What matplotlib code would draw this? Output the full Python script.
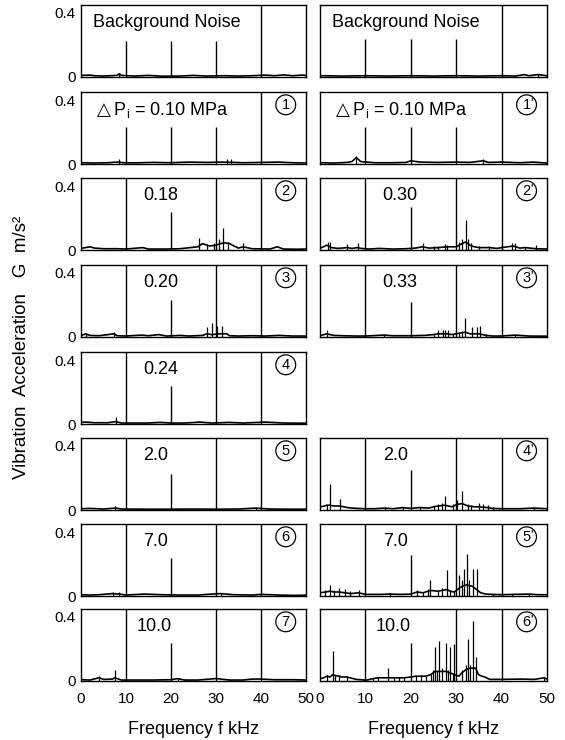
import matplotlib
matplotlib.use('Agg')
import matplotlib.pyplot as plt

plt.rcParams['font.family'] = ['Liberation Sans', 'DejaVu Sans']

# Espectros (f em kHz, aceleração em G m/s²)
# coluna esquerda
bg_l_f = [0, 2, 3, 5, 8, 8.5, 9, 12, 15, 18, 22, 25, 28, 32, 35, 38, 41, 43, 45, 47, 49, 50]
bg_l_a = [0.01, 0.012, 0.008, 0.006, 0.01, 0.02, 0.01, 0.006, 0.01, 0.005, 0.006, 0.01,
          0.006, 0.008, 0.006, 0.008, 0.012, 0.008, 0.013, 0.008, 0.012, 0.01]
bg_l_pf = [8.5]
bg_l_pa = [0.02]

p1_l_f = [0, 3, 6, 8, 9.5, 12, 16, 20, 24, 28, 31, 34, 36, 40, 44, 47, 50]
p1_l_a = [0.008, 0.006, 0.008, 0.012, 0.008, 0.007, 0.01, 0.008, 0.012, 0.01, 0.012, 0.01,
          0.008, 0.01, 0.012, 0.008, 0.006]
p1_l_pf = [8.4, 32.5, 33.4]
p1_l_pa = [0.03, 0.03, 0.03]

p2_l_f = [0, 1, 2, 3, 5, 8, 10, 13.7, 15, 19, 22, 26, 27, 28.5, 30, 31, 32, 33, 34, 35, 36,
          38, 42, 43.6, 45, 48, 50]
p2_l_a = [0.01, 0.015, 0.02, 0.012, 0.008, 0.008, 0.006, 0.015, 0.006, 0.006, 0.008, 0.02,
          0.04, 0.025, 0.03, 0.04, 0.045, 0.04, 0.025, 0.012, 0.02, 0.008, 0.006, 0.02,
          0.006, 0.005, 0.006]
p2_l_pf = [26.3, 28, 29.5, 30.6, 31.5, 32.6, 36]
p2_l_pa = [0.075, 0.04, 0.045, 0.07, 0.14, 0.05, 0.045]

p3_l_f = [0, 1, 2, 4, 7.4, 8, 10, 13.5, 15, 17.3, 19, 22, 24, 27, 28, 29, 31, 32.4, 33, 35,
          38, 41, 44, 47, 50]
p3_l_a = [0.008, 0.02, 0.01, 0.008, 0.02, 0.008, 0.006, 0.012, 0.008, 0.015, 0.006, 0.01,
          0.006, 0.01, 0.02, 0.015, 0.02, 0.02, 0.008, 0.006, 0.008, 0.006, 0.01, 0.006, 0.006]
p3_l_pf = [1, 7.4, 28, 29.2, 30.3, 31.4]
p3_l_pa = [0.025, 0.03, 0.06, 0.09, 0.07, 0.07]

p4_l_f = [0, 1, 3, 6, 7.7, 9, 12, 15, 17.5, 20, 23, 26.5, 29, 33, 36, 41, 45, 50]
p4_l_a = [0.01, 0.012, 0.008, 0.008, 0.015, 0.006, 0.006, 0.006, 0.01, 0.006, 0.006, 0.012,
          0.006, 0.01, 0.006, 0.012, 0.006, 0.005]
p4_l_pf = [7.7]
p4_l_pa = [0.045]

p5_l_f = [0, 2, 5, 7.6, 9, 15, 20, 25, 30, 35, 38.8, 42, 46, 50]
p5_l_a = [0.008, 0.01, 0.006, 0.012, 0.006, 0.005, 0.005, 0.006, 0.005, 0.006, 0.012,
          0.006, 0.005, 0.005]
p5_l_pf = [7.6, 38.8]
p5_l_pa = [0.022, 0.015]

p6_l_f = [0, 2, 4, 7, 8.5, 10, 14, 18, 22, 26, 29, 31, 34, 38, 40, 44, 47, 50]
p6_l_a = [0.008, 0.006, 0.008, 0.015, 0.012, 0.006, 0.012, 0.008, 0.006, 0.006, 0.012,
          0.015, 0.008, 0.006, 0.01, 0.006, 0.004, 0.005]
p6_l_pf = [7, 8.5, 31]
p6_l_pa = [0.025, 0.022, 0.02]

p7_l_f = [0, 2, 4, 5, 7, 7.5, 9, 12, 16, 20, 21.5, 23, 26, 30, 33, 36, 38, 40, 43, 47, 50]
p7_l_a = [0.008, 0.006, 0.02, 0.01, 0.012, 0.02, 0.006, 0.006, 0.006, 0.008, 0.015, 0.006,
          0.006, 0.015, 0.006, 0.006, 0.012, 0.012, 0.008, 0.008, 0.006]
p7_l_pf = [4, 7.5, 21.5, 23]
p7_l_pa = [0.03, 0.07, 0.02, 0.015]

# coluna direita
bg_r_f = [0, 5, 10, 15, 20, 25, 30, 35, 40, 43, 45, 46, 48, 50]
bg_r_a = [0.008, 0.006, 0.008, 0.006, 0.008, 0.006, 0.008, 0.006, 0.008, 0.006, 0.015,
          0.008, 0.015, 0.008]
bg_r_pf = [48]
bg_r_pa = [0.02]

p1_r_f = [0, 3, 6, 7, 8, 9, 12, 16, 19, 20, 22, 26, 30, 33, 36, 37, 40, 44, 47, 50]
p1_r_a = [0.008, 0.006, 0.01, 0.015, 0.04, 0.015, 0.008, 0.008, 0.01, 0.02, 0.012, 0.01,
          0.012, 0.01, 0.02, 0.01, 0.012, 0.008, 0.012, 0.006]
p1_r_pf = [8, 36]
p1_r_pa = [0.05, 0.03]

p2_r_f = [0, 1.5, 2.5, 4, 6, 7, 8.3, 9, 11, 13, 16, 19, 21, 22.6, 24, 26, 28, 30, 31.3,
          32.1, 33, 34, 35, 37.2, 39, 40, 42.6, 44, 45.2, 47.5, 50]
p2_r_a = [0.01, 0.03, 0.015, 0.01, 0.015, 0.01, 0.015, 0.01, 0.006, 0.01, 0.006, 0.008,
          0.012, 0.02, 0.012, 0.015, 0.02, 0.02, 0.04, 0.05, 0.03, 0.02, 0.015, 0.015, 0.01,
          0.015, 0.025, 0.012, 0.015, 0.008, 0.006]
p2_r_pf = [1.7, 2.2, 6, 8.3, 22.6, 25, 26, 27.6, 28, 30.7, 31.3, 32.1, 32.5, 33.2, 35, 37.2,
           40, 42.3, 43, 45.2, 47.5]
p2_r_pa = [0.05, 0.05, 0.04, 0.045, 0.045, 0.025, 0.025, 0.035, 0.03, 0.05, 0.07, 0.19,
           0.07, 0.045, 0.025, 0.025, 0.03, 0.045, 0.045, 0.02, 0.03]

p3_r_f = [0, 1.5, 3, 5, 8, 10, 14, 16, 20, 23, 25, 26, 28, 29, 30, 32, 33, 35, 36.6, 38, 40,
          43, 46, 50]
p3_r_a = [0.008, 0.02, 0.01, 0.008, 0.006, 0.006, 0.012, 0.008, 0.008, 0.01, 0.015, 0.02,
          0.02, 0.015, 0.02, 0.03, 0.02, 0.02, 0.01, 0.006, 0.006, 0.012, 0.006, 0.005]
p3_r_pf = [1.5, 14, 25, 26.1, 27, 27.6, 28.3, 29.2, 30.6, 31.2, 32, 33.4, 34.5, 35.3, 36.6, 43]
p3_r_pa = [0.045, 0.02, 0.02, 0.045, 0.045, 0.045, 0.045, 0.02, 0.03, 0.04, 0.12, 0.06,
           0.06, 0.07, 0.02, 0.015]

p4_r_f = [0, 1, 1.5, 2.2, 3, 4.4, 6, 8, 10, 12, 14.3, 16, 18.3, 20, 22, 24, 25, 26, 27.5, 29,
          30.2, 31.3, 32.6, 34, 35, 36.9, 38, 40, 44, 47.2, 50]
p4_r_a = [0.02, 0.025, 0.03, 0.03, 0.025, 0.025, 0.015, 0.01, 0.008, 0.008, 0.012, 0.008,
          0.015, 0.01, 0.015, 0.012, 0.02, 0.025, 0.03, 0.02, 0.035, 0.04, 0.025, 0.02, 0.02,
          0.015, 0.01, 0.008, 0.008, 0.012, 0.008]
p4_r_pf = [1.5, 2.2, 4.4, 14.3, 18.3, 22, 25, 26, 26.8, 27.5, 29.4, 30.2, 31.3, 32.6, 33.3,
           35, 35.8, 36.9, 38, 47.2]
p4_r_pa = [0.03, 0.16, 0.07, 0.015, 0.02, 0.02, 0.025, 0.035, 0.045, 0.09, 0.035, 0.06,
           0.12, 0.04, 0.03, 0.045, 0.04, 0.03, 0.02, 0.015]

p5_r_f = [0, 1.2, 2.2, 3.1, 4.1, 5.6, 6.7, 8.5, 10, 13, 15.4, 18, 20, 21.4, 22.7, 24.3, 26,
          26.9, 28, 28.6, 29.6, 30.7, 31.3, 32.3, 33.6, 34.5, 35.4, 36.5, 38, 40, 42.4, 46,
          48, 50]
p5_r_a = [0.02, 0.025, 0.03, 0.025, 0.025, 0.02, 0.015, 0.02, 0.01, 0.01, 0.012, 0.01,
          0.012, 0.025, 0.02, 0.035, 0.03, 0.035, 0.04, 0.03, 0.025, 0.05, 0.06, 0.07, 0.06,
          0.04, 0.02, 0.012, 0.01, 0.008, 0.01, 0.012, 0.008, 0.008]
p5_r_pf = [1.2, 2.2, 3.1, 4.1, 5.6, 6.7, 8.5, 15.4, 21.4, 22.7, 23.8, 24.3, 26, 26.9, 28,
           28.6, 29.6, 30.7, 31.3, 31.8, 32.3, 32.9, 33.6, 34.5, 38, 42.4, 46]
p5_r_pa = [0.04, 0.07, 0.04, 0.05, 0.045, 0.03, 0.035, 0.02, 0.04, 0.025, 0.045, 0.1, 0.03,
           0.05, 0.16, 0.04, 0.03, 0.13, 0.1, 0.17, 0.26, 0.1, 0.17, 0.17, 0.015, 0.012, 0.015]

p6_r_f = [0, 0.8, 1.5, 2.2, 2.8, 3.3, 4.1, 4.8, 5.9, 6.6, 8, 10.2, 11.7, 12.8, 15, 16.4, 17.5,
          18.6, 20, 21.1, 22.2, 23.3, 24.4, 25.3, 26.3, 27.8, 28.7, 29.6, 30.6, 31.2, 32.1, 33,
          34.3, 34.9, 35.6, 36.3, 37.4, 40, 44.3, 47.2, 49.4, 50]
p6_r_a = [0.015, 0.02, 0.03, 0.025, 0.04, 0.035, 0.03, 0.025, 0.025, 0.02, 0.01, 0.005,
          0.015, 0.02, 0.02, 0.02, 0.02, 0.02, 0.025, 0.03, 0.03, 0.03, 0.04, 0.06, 0.06,
          0.06, 0.05, 0.04, 0.03, 0.05, 0.07, 0.08, 0.08, 0.04, 0.03, 0.025, 0.01, 0.01,
          0.012, 0.01, 0.02, 0.012]
p6_r_pf = [1.5, 2.8, 3.3, 4.1, 5.9, 11.7, 12.8, 15, 16.4, 17.5, 18.6, 21.1, 22.2, 23.3, 24.4,
           24.9, 25.3, 25.8, 26.3, 26.9, 27.8, 28.2, 28.7, 29.2, 29.6, 31.2, 32.1, 32.5, 33,
           33.8, 34.3, 49.4]
p6_r_pa = [0.035, 0.19, 0.04, 0.035, 0.03, 0.02, 0.025, 0.08, 0.02, 0.025, 0.02, 0.03, 0.035,
           0.03, 0.045, 0.07, 0.21, 0.06, 0.25, 0.08, 0.24, 0.07, 0.21, 0.05, 0.23, 0.07, 0.1,
           0.26, 0.1, 0.375, 0.15, 0.02]

# marcas de calibração (kHz) e alturas
left_cal_h = [0.225, 0.23, 0.24, 0.23, 0.24, 0.225, 0.24, 0.24]
right_cal_h = [0.24, 0.23, 0.27, 0.22, None, 0.25, 0.255, 0.24]

pi_txt = r'$\triangle$P$_\mathregular{i}$ = 0.10 MPa'
left_txt = ['Background Noise', pi_txt, '0.18', '0.20', '0.24', '2.0', '7.0', '10.0']
right_txt = ['Background Noise', pi_txt, '0.30', '0.33', None, '2.0', '7.0', '10.0']
left_num = ['', '1', '2', '3', '4', '5', '6', '7']
right_num = ['', "1", "2", "3", None, "4", "5", "6"]

left_data = [(bg_l_f, bg_l_a, bg_l_pf, bg_l_pa), (p1_l_f, p1_l_a, p1_l_pf, p1_l_pa),
             (p2_l_f, p2_l_a, p2_l_pf, p2_l_pa), (p3_l_f, p3_l_a, p3_l_pf, p3_l_pa),
             (p4_l_f, p4_l_a, p4_l_pf, p4_l_pa), (p5_l_f, p5_l_a, p5_l_pf, p5_l_pa),
             (p6_l_f, p6_l_a, p6_l_pf, p6_l_pa), (p7_l_f, p7_l_a, p7_l_pf, p7_l_pa)]
right_data = [(bg_r_f, bg_r_a, bg_r_pf, bg_r_pa), (p1_r_f, p1_r_a, p1_r_pf, p1_r_pa),
              (p2_r_f, p2_r_a, p2_r_pf, p2_r_pa), (p3_r_f, p3_r_a, p3_r_pf, p3_r_pa),
              None, (p4_r_f, p4_r_a, p4_r_pf, p4_r_pa),
              (p5_r_f, p5_r_a, p5_r_pf, p5_r_pa), (p6_r_f, p6_r_a, p6_r_pf, p6_r_pa)]

freq_ticks = [0, 10, 20, 30, 40, 50]

fig = plt.figure(figsize=(5.65, 7.4), dpi=100)
W, H = 565, 740
row_top = [5, 92, 178, 265, 352, 438, 524, 609]
ph = 72


def painel(x0, w, row, dados, txt, num, cal_h, left):
    top = row_top[row]
    ax = fig.add_axes([x0 / W, 1 - (top + ph) / H, w / W, ph / H])
    f, a, pf, pa = dados
    ax.plot(f, a, color='black', lw=1.2)
    ax.vlines(pf, 0, pa, color='black', lw=0.9)
    if row < 2:
        ax.vlines([10, 20, 30], 0, cal_h, color='black', lw=1.0)
        ax.axvline(40, color='black', lw=1.0)
    else:
        ax.vlines([20], 0, cal_h, color='black', lw=1.0)
        for xv in [10, 30, 40]:
            ax.axvline(xv, color='black', lw=1.0)
    ax.set_xlim(0, 50)
    ax.set_ylim(0, 0.45)
    if row < 2:
        ax.text(2.6, 0.34, txt, fontsize=13, va='center', ha='left')
    elif txt == '10.0':
        ax.text(12.3, 0.34, txt, fontsize=13, va='center', ha='left')
    else:
        ax.text(13.8, 0.34, txt, fontsize=13, va='center', ha='left')
    if num:
        ax.text(45.5, 0.37, num, fontsize=10.5, ha='center', va='center',
                bbox=dict(boxstyle='circle,pad=0.2', fc='white', ec='black', lw=0.9))
        if not left:
            ax.annotate("'", xy=(45.5, 0.37), xytext=(3.5, 1.5), textcoords='offset points',
                        fontsize=9, ha='center', va='center')
    ax.tick_params(length=0, labelsize=11, pad=4)
    if left:
        ax.set_yticks([0, 0.4])
        ax.set_yticklabels(['0', '0.4'])
    else:
        ax.set_yticks([])
    if row == 7:
        ax.set_xticks(freq_ticks)
        ax.set_xticklabels([str(t) for t in freq_ticks])
        ax.tick_params(axis='x', pad=8)
        ax.set_xlabel('Frequency f kHz', fontsize=13, labelpad=11)
    else:
        ax.set_xticks([])
    for s in ax.spines.values():
        s.set_linewidth(1.0)
    return ax


for i in range(8):
    painel(81, 225, i, left_data[i], left_txt[i], left_num[i], left_cal_h[i], True)
    if right_data[i] is not None:
        painel(320, 227, i, right_data[i], right_txt[i], right_num[i], right_cal_h[i], False)

fig.text(22 / W, 1 - 347 / H, 'Vibration  Acceleration   G  m/s²', rotation=90,
         fontsize=13.5, ha='center', va='center')

fig.savefig('out.png', dpi=100)
